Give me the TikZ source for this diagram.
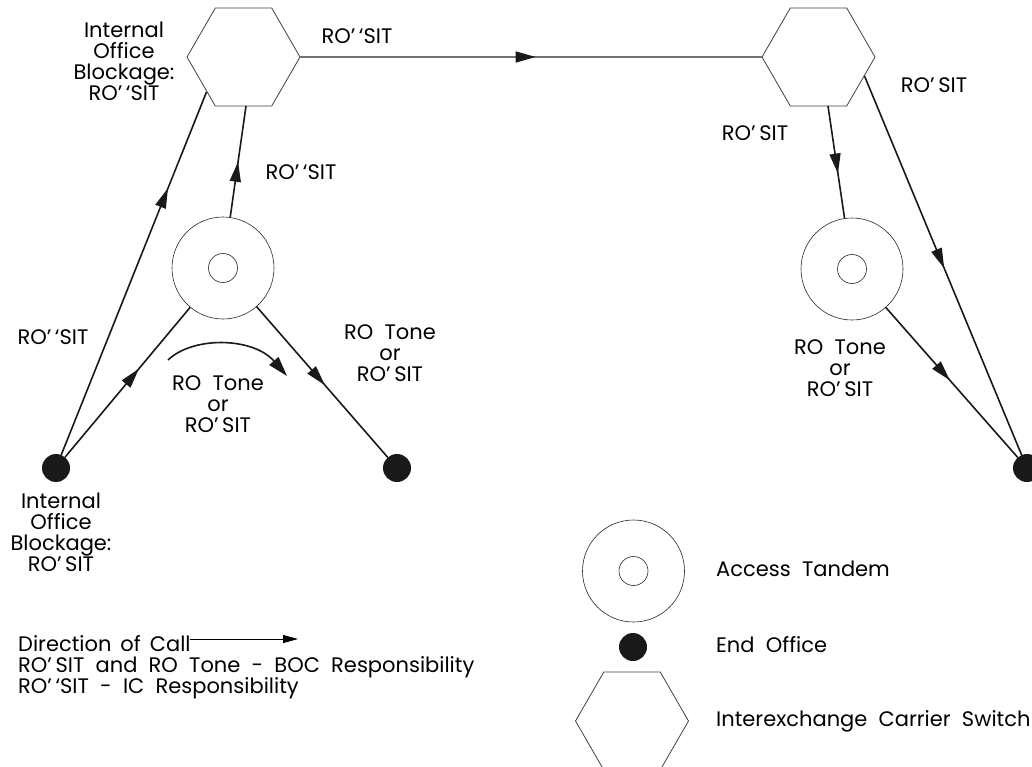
\documentclass[tikz,border=0pt]{standalone}
\usepackage{fontspec}
\setmainfont{Poppins}
\usetikzlibrary{shapes.geometric,arrows.meta,decorations.markings,calc}
\tikzset{
  hexa/.style={regular polygon, regular polygon sides=6, minimum size=113pt, inner sep=0pt, outer sep=0pt, draw=black!75, line width=0.8pt},
  atouter/.style={circle, draw=black!85, line width=0.6pt, minimum size=102pt, inner sep=0pt, outer sep=0pt},
  atinner/.style={circle, draw=black!85, line width=0.6pt, minimum size=29pt, inner sep=0pt},
  eo/.style={circle, fill=black!90, minimum size=28pt, inner sep=0pt, outer sep=0pt},
  conn/.style={line width=1.6pt, black!90},
  topline/.style={line width=1.3pt, black!55},
  midarrow/.style={postaction={decorate}, decoration={markings, mark=at position #1 with {\arrow[black!90]{Triangle[length=20pt,width=11pt]}}}},
  lbl/.style={font=\fontsize{21}{21}\selectfont, align=center, inner sep=0pt},
  lgl/.style={font=\fontsize{21}{21}\selectfont, inner sep=0pt, anchor=base west},
}
\newcommand{\wsp}{\hspace{9pt}}
\begin{document}
\begin{tikzpicture}[x=1pt,y=-1pt]
\useasboundingbox (0,0) rectangle (1032,766);
% switches
\node[hexa] (hexL) at (243.5,57) {};
\node[hexa] (hexR) at (818.5,57) {};
% access tandems
\node[atouter] (atL) at (223,268) {};
\node[atinner] (atLi) at (223,268) {};
\node[atouter] (atR) at (852,269) {};
\node[atinner] (atRi) at (852,269) {};
% end offices
\node[eo] (eoL) at (56,468) {};
\node[eo] (eoM) at (397,468) {};
\node[eo] (eoR) at (1027,468) {};
% connectors
\draw[topline, midarrow=0.51] (hexL) -- (hexR);
\draw[conn, midarrow=0.735] (eoL) -- ($(hexL)+(-37,35)$);
\draw[conn, midarrow=0.59] (eoL) -- (atL);
\draw[conn, midarrow=0.5] (atL) -- ($(hexL)+(2.5,49)$);
\draw[conn, midarrow=0.52] (atL) -- (eoM);
\draw[conn, midarrow=0.6] ($(hexR)+(9.5,49)$) -- (atR);
\draw[conn, midarrow=0.507] ($(hexR)+(46,19)$) -- (eoR);
\draw[conn, midarrow=0.485] (atR) -- (eoR);
\coordinate (cvA) at (168,360);
\coordinate (cvB) at (287,376);
\draw[conn, -{Triangle[length=20pt,width=12pt]}] (cvA) .. controls (193,336) and (253,337) .. (cvB);
% labels
\node[lbl] (tL1) at (124,61) {Internal\\Office\\Blockage:\\RO’\,‘SIT};
\node[lbl] (tL2) at (61,532) {Internal\\Office\\Blockage:\\RO’\,SIT};
\node[lbl] (tTop) at (357,36) {RO’\,‘SIT};
\node[lbl] (tMid) at (301,172) {RO’\,‘SIT};
\node[lbl] (tLeft) at (53,337) {RO’\,‘SIT};
\node[lbl] (tCurve) at (218,404) {RO\ \ Tone\\or\\RO’\,SIT};
\node[lbl] (tMidR) at (390,353) {RO\ \ Tone\\or\\RO’\,SIT};
\node[lbl] (tR1) at (934,85) {RO’\,SIT};
\node[lbl] (tR2) at (755,133) {RO’\,SIT};
\node[lbl] (tR3) at (840,368) {RO\ \ Tone\\or\\RO’\,SIT};
% legend
\node[lgl] (legDir) at (18,651.5) {Direction\wsp of\wsp Call};
\node[lgl] (legBoc) at (18,672.5) {RO’\,SIT\ \ and\ \ RO\ \ Tone\ \ -\ \ BOC\ \ Responsibility};
\node[lgl] (legIc) at (18,693.5) {RO’\,‘SIT\ \ -\ \ IC\ \ Responsibility};
\coordinate (dirA) at (190,639);
\coordinate (dirB) at (298,639);
\draw[line width=0.8pt, -{Triangle[length=15pt,width=8pt]}] (dirA) -- (dirB);
\node[atouter] (lgAT) at (633.5,571) {};
\node[atinner] (lgATi) at (633.5,571) {};
\node[eo] (lgEO) at (633,647) {};
\node[hexa] (lgHex) at (632,721) {};
\node[lgl] (lgATt) at (716,576.5) {Access\ \ Tandem};
\node[lgl] (lgEOt) at (716,652.5) {End\ \ Office};
\node[lgl] (lgHext) at (716,726.5) {Interexchange\ \ Carrier\ \ Switch};
\end{tikzpicture}
\end{document}
